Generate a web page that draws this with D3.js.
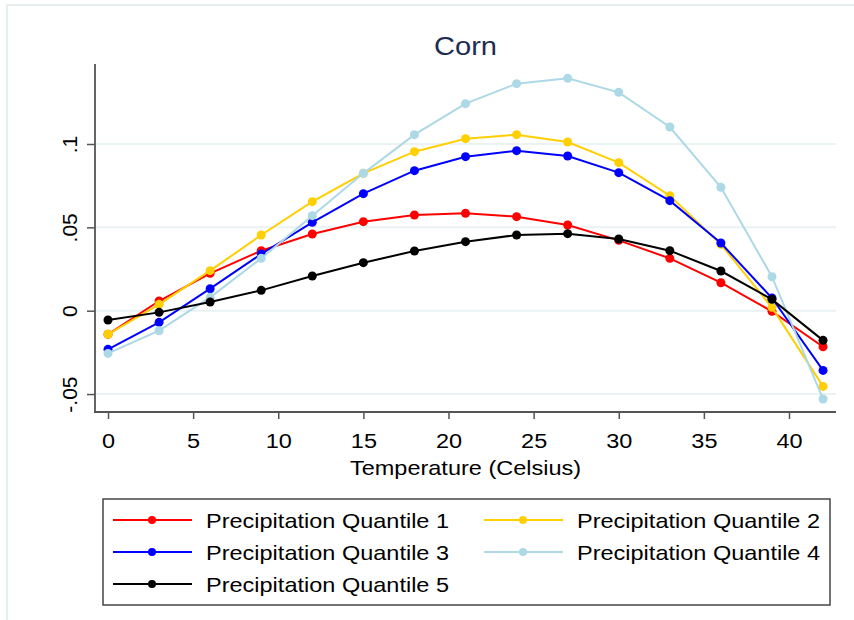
<!DOCTYPE html>
<html>
<head>
  <meta charset="utf-8">
  <title>Corn</title>
  <script type="text/javascript" src="https://cdn.jsdelivr.net/npm/d3@7/dist/d3.min.js"></script>
  <style>
    body { margin: 0; background: white; }
    text { font-family: "Liberation Sans", Arial, sans-serif; }
  </style>
</head>
<body>
<script>
  // temperatures (x) and the five precipitation quantile series
  var temps = [0, 3, 6, 9, 12, 15, 18, 21, 24, 27, 30, 33, 36, 39, 42];
  var q1 = [-0.0142, 0.0058, 0.0224, 0.036, 0.046, 0.0534, 0.0574, 0.0584, 0.0564, 0.0514, 0.0422, 0.0314, 0.0168, -0.0004, -0.0216];
  var q2 = [-0.0142, 0.0038, 0.024, 0.0454, 0.0654, 0.0824, 0.0954, 0.1032, 0.1056, 0.1012, 0.0888, 0.069, 0.0398, 0.002, -0.0454];
  var q3 = [-0.0232, -0.007, 0.0132, 0.034, 0.053, 0.0702, 0.084, 0.0924, 0.096, 0.0928, 0.0828, 0.066, 0.0406, 0.0076, -0.0358];
  var q4 = [-0.0256, -0.012, 0.008, 0.0314, 0.057, 0.0824, 0.1056, 0.1242, 0.1362, 0.1394, 0.131, 0.1102, 0.074, 0.0204, -0.053];
  var q5 = [-0.0056, -0.001, 0.0052, 0.0122, 0.0208, 0.0288, 0.0358, 0.0414, 0.0454, 0.0462, 0.043, 0.036, 0.0238, 0.0068, -0.0178];
  var seriesNames = ["Precipitation Quantile 1", "Precipitation Quantile 2", "Precipitation Quantile 3", "Precipitation Quantile 4", "Precipitation Quantile 5"];
  var seriesColors = ["#ff0000", "#ffcf00", "#0000ff", "#add8e6", "#000000"];
  var xTicks = [0, 5, 10, 15, 20, 25, 30, 35, 40];
  var yTicks = [-0.05, 0, 0.05, 0.1];
  var yTickLabels = ["-.05", "0", ".05", ".1"];

  var width = 854;
  var height = 620;
  var stretch = 1.12;
  var plotLeft = 95, plotRight = 836, plotTop = 64, plotBottom = 412;

  var series = [q1, q2, q3, q4, q5].map(function(vals, i) {
    return { name: seriesNames[i], color: seriesColors[i],
      points: vals.map(function(v, j) { return { t: temps[j], v: v }; }) };
  });

  var svg = d3.select("body")
    .append("svg")
    .attr("width", width)
    .attr("height", height);

  // outer graph region border
  svg.append("rect")
    .attr("x", 7).attr("y", 5)
    .attr("width", 900).attr("height", 700)
    .attr("fill", "none")
    .attr("stroke", "#e6eef0")
    .attr("stroke-width", 2);

  var xScale = d3.scaleLinear()
    .domain([0, 40])
    .range([108, 789]);

  var yScale = d3.scaleLinear()
    .domain([0, 0.1])
    .range([310.7, 144]);

  // gridlines
  svg.append("g")
    .selectAll("line")
    .data(yTicks)
    .enter()
    .append("line")
    .attr("x1", plotLeft)
    .attr("x2", plotRight)
    .attr("y1", function(d) { return yScale(d); })
    .attr("y2", function(d) { return yScale(d); })
    .attr("stroke", "#eaf2f3")
    .attr("stroke-width", 2);

  // x axis
  var xAxis = svg.append("g")
    .attr("transform", "translate(0," + plotBottom + ")")
    .call(d3.axisBottom(xScale).tickValues(xTicks).tickSize(7).tickSizeOuter(0));
  xAxis.select(".domain").remove();
  xAxis.selectAll(".tick line").attr("stroke", "#555").attr("stroke-width", 1.5);
  xAxis.selectAll(".tick text")
    .attr("y", null).attr("dy", null)
    .attr("font-size", 21)
    .attr("fill", "#000")
    .attr("transform", "translate(0,36) scale(" + stretch + ",1)");
  svg.append("line")
    .attr("x1", plotLeft - 1).attr("x2", plotRight)
    .attr("y1", plotBottom).attr("y2", plotBottom)
    .attr("stroke", "#555").attr("stroke-width", 1.8);

  // y axis
  var yAxis = svg.append("g")
    .attr("transform", "translate(" + plotLeft + ",0)")
    .call(d3.axisLeft(yScale).tickValues(yTicks).tickSize(8).tickSizeOuter(0)
      .tickFormat(function(d, i) { return yTickLabels[i]; }));
  yAxis.select(".domain").remove();
  yAxis.selectAll(".tick line").attr("stroke", "#555").attr("stroke-width", 1.5);
  yAxis.selectAll(".tick text")
    .attr("x", null).attr("dy", null)
    .attr("font-size", 21)
    .attr("fill", "#000")
    .attr("text-anchor", "middle")
    .attr("transform", "translate(-18,0) rotate(-90)");
  svg.append("line")
    .attr("x1", plotLeft).attr("x2", plotLeft)
    .attr("y1", plotTop).attr("y2", plotBottom + 1)
    .attr("stroke", "#555").attr("stroke-width", 1.8);

  // title and axis title
  svg.append("text")
    .attr("transform", "translate(" + ((plotLeft + plotRight) / 2) + ",55) scale(" + stretch + ",1)")
    .attr("text-anchor", "middle")
    .attr("font-size", 26)
    .attr("fill", "#1e2d52")
    .text("Corn");

  svg.append("text")
    .attr("transform", "translate(" + ((plotLeft + plotRight) / 2) + ",475) scale(" + stretch + ",1)")
    .attr("text-anchor", "middle")
    .attr("font-size", 21)
    .attr("fill", "#000")
    .text("Temperature (Celsius)");

  // lines and markers
  var line = d3.line()
    .x(function(d) { return xScale(d.t); })
    .y(function(d) { return yScale(d.v); });

  var groups = svg.append("g")
    .selectAll("g")
    .data(series)
    .enter()
    .append("g");

  groups.append("path")
    .attr("d", function(d) { return line(d.points); })
    .attr("fill", "none")
    .attr("stroke", function(d) { return d.color; })
    .attr("stroke-width", 2);

  groups.selectAll("circle")
    .data(function(d) { return d.points.map(function(p) { return { t: p.t, v: p.v, color: d.color }; }); })
    .enter()
    .append("circle")
    .attr("cx", function(d) { return xScale(d.t); })
    .attr("cy", function(d) { return yScale(d.v); })
    .attr("r", 4.5)
    .attr("fill", function(d) { return d.color; });

  // legend
  svg.append("rect")
    .attr("x", 103).attr("y", 499)
    .attr("width", 727).attr("height", 106)
    .attr("fill", "white")
    .attr("stroke", "#444")
    .attr("stroke-width", 1.5);

  var legendCols = [113, 484];
  var legendRows = [520, 552, 584];
  var items = svg.append("g")
    .selectAll("g")
    .data(series)
    .enter()
    .append("g")
    .attr("transform", function(d, i) {
      return "translate(" + legendCols[i % 2] + "," + legendRows[Math.floor(i / 2)] + ")";
    });

  items.append("line")
    .attr("x1", 0).attr("x2", 79)
    .attr("stroke", function(d) { return d.color; })
    .attr("stroke-width", 2);

  items.append("circle")
    .attr("cx", 39).attr("r", 4)
    .attr("fill", function(d) { return d.color; });

  items.append("text")
    .attr("transform", "translate(93,8) scale(" + stretch + ",1)")
    .attr("font-size", 21)
    .attr("fill", "#000")
    .text(function(d) { return d.name; });
</script>
</body>
</html>
